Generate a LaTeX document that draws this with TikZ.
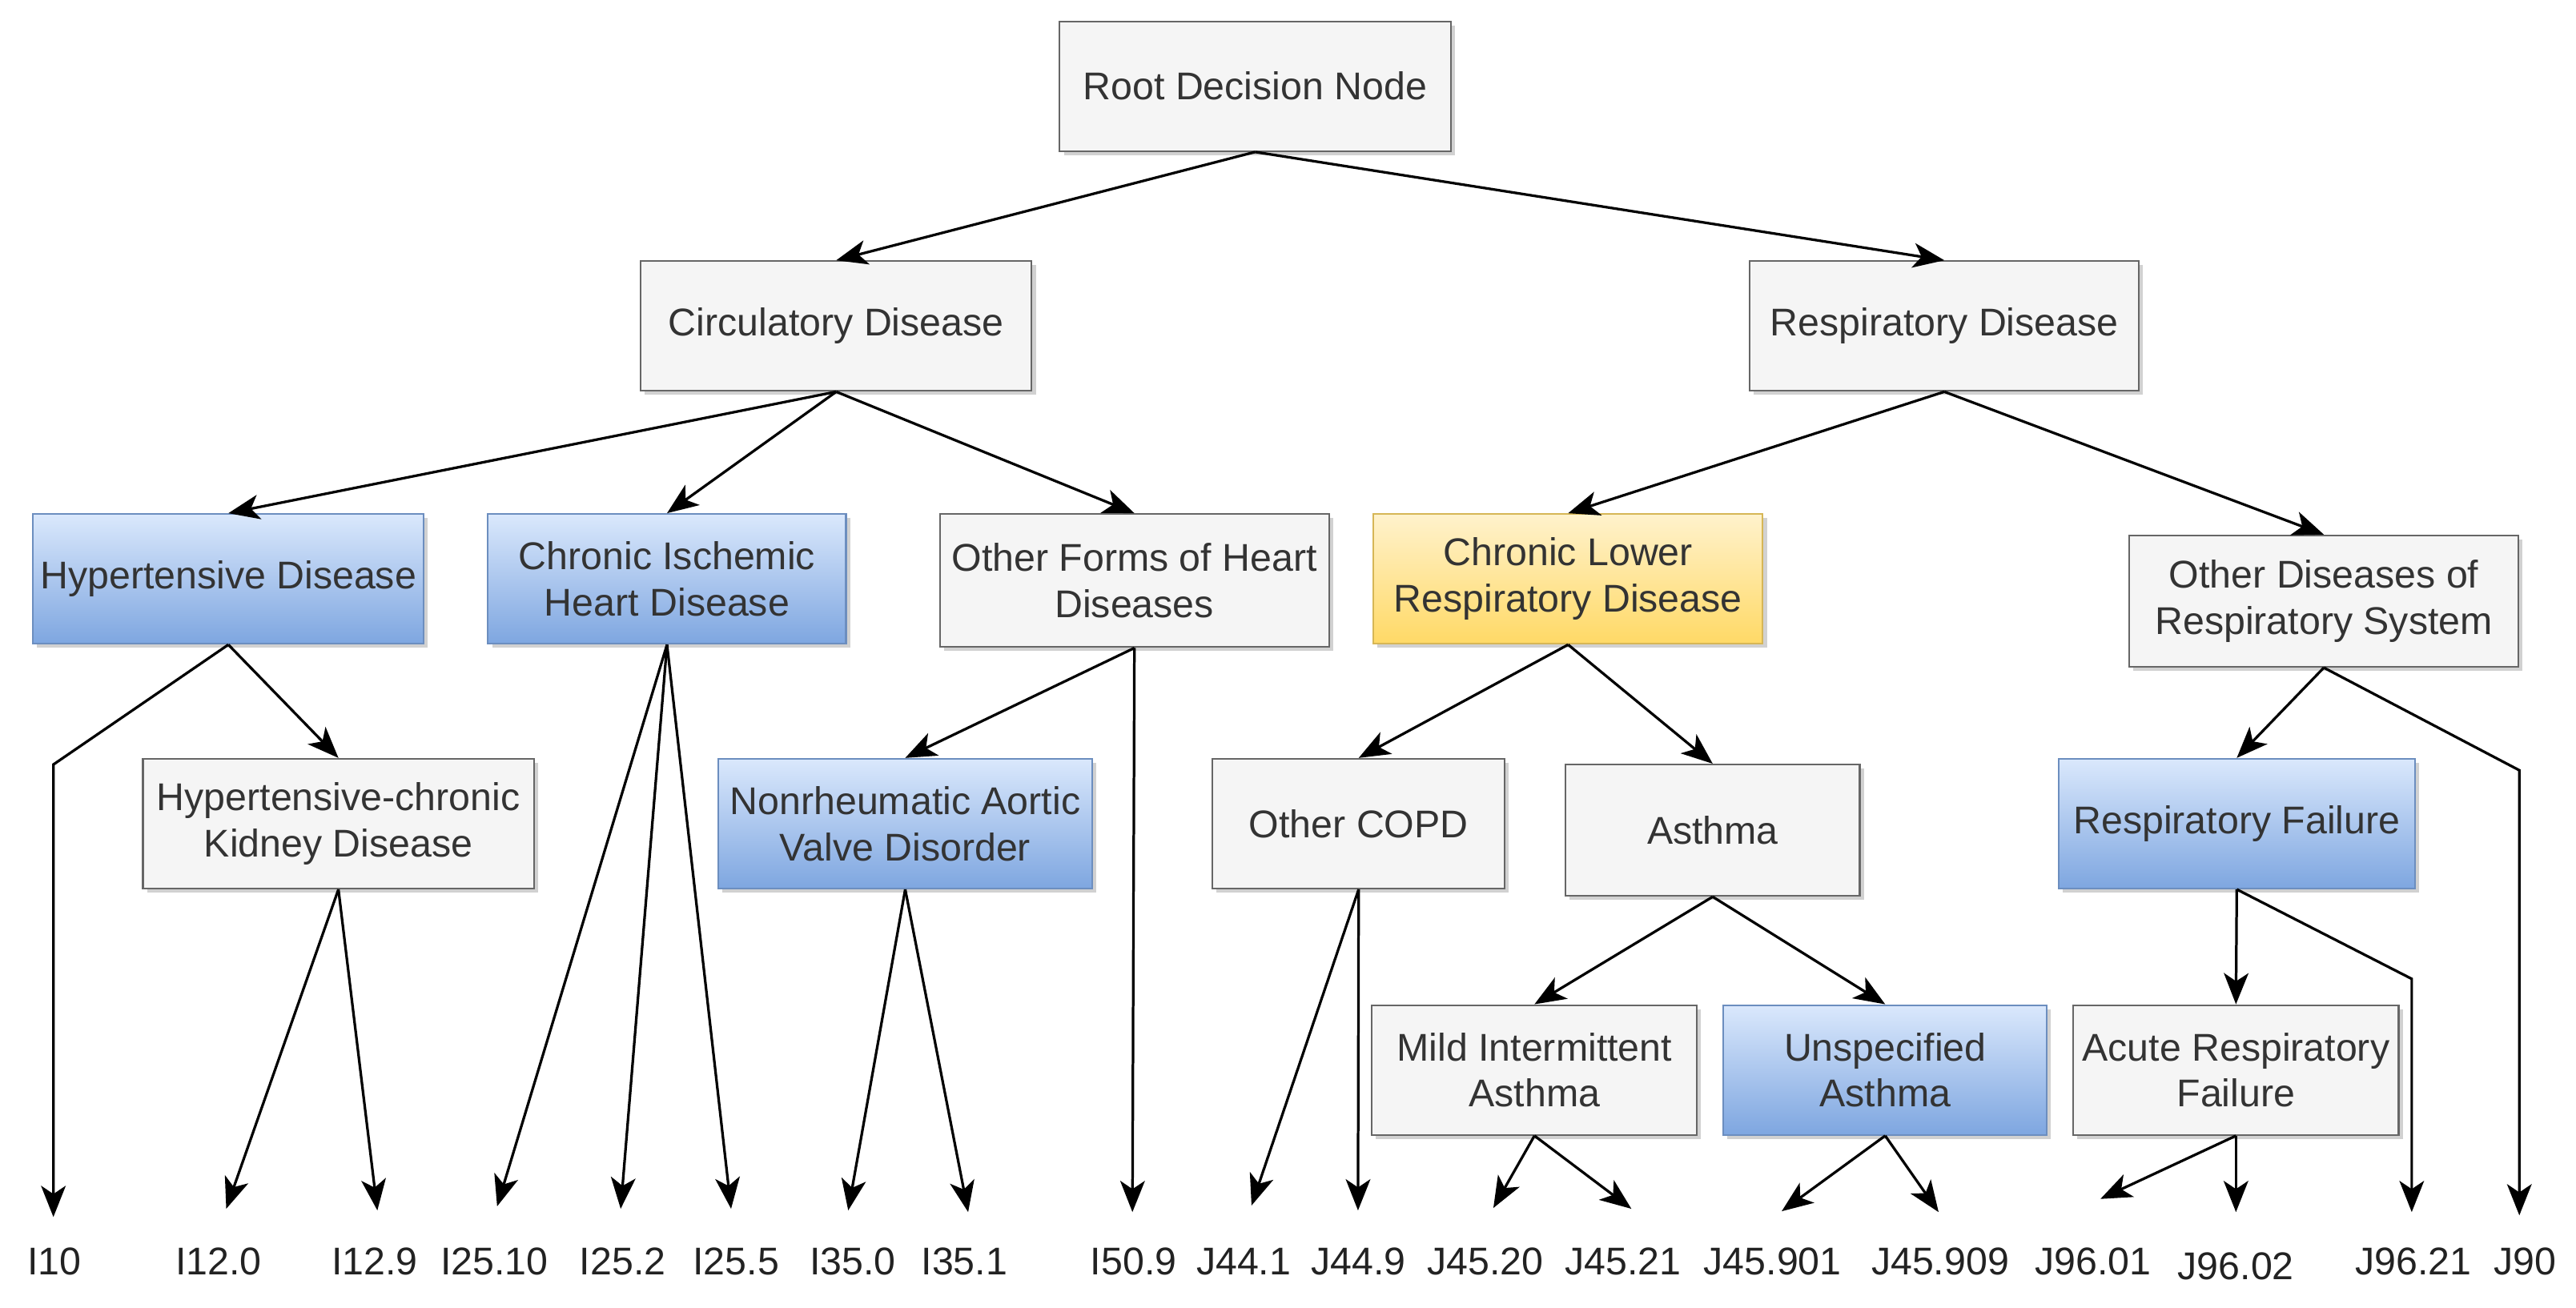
\documentclass[tikz,border=0pt]{standalone}
\usepackage{fontspec}
\setmainfont{Liberation Sans}
\usetikzlibrary{arrows.meta,shadows}
\definecolor{txt}{HTML}{333333}
\definecolor{leaftxt}{HTML}{222222}
\definecolor{gfill}{HTML}{F5F5F5}
\definecolor{gdraw}{HTML}{666666}
\definecolor{btop}{HTML}{DAE8FC}
\definecolor{bbot}{HTML}{7EA6E0}
\definecolor{bdraw}{HTML}{6C8EBF}
\definecolor{ytop}{HTML}{FFF2CC}
\definecolor{ybot}{HTML}{FFD966}
\definecolor{ydraw}{HTML}{D6B656}
\begin{document}
\begin{tikzpicture}[x=0.02cm,y=-0.02cm,
  box/.style={rectangle, inner sep=0pt, align=center, text=txt, line width=0.6pt,
    font=\fontsize{13.4pt}{16pt}\selectfont, minimum height=1.58cm,
    drop shadow={shadow xshift=0.05cm, shadow yshift=-0.05cm, opacity=0.18, fill=black}},
  gbox/.style={box, fill=gfill, draw=gdraw},
  bbox/.style={box, top color=btop, bottom color=bbot, draw=bdraw},
  ybox/.style={box, top color=ytop, bottom color=ybot, draw=ydraw},
  leaf/.style={inner sep=0pt, anchor=base, text=leaftxt, font=\fontsize{13.4pt}{16pt}\selectfont},
  arr/.style={-{Stealth[length=0.38cm,width=0.3cm,inset=0.1cm]}, line width=0.9pt, black, line join=miter}
]
\useasboundingbox (0,0) rectangle (1568,796);

% boxes
\node[gbox, minimum width=4.76cm] (root) at (764,52.5) {Root Decision Node};
\node[gbox, minimum width=4.76cm] (circ) at (509,198.5) {Circulatory Disease};
\node[gbox, minimum width=4.74cm] (resp) at (1183.5,198.5) {Respiratory Disease};
\node[bbox, minimum width=4.76cm] (hyp) at (139,352.5) {Hypertensive Disease};
\node[bbox, minimum width=4.36cm] (cihd) at (406,352.5) {Chronic Ischemic\\Heart Disease};
\node[gbox, minimum width=4.74cm, minimum height=1.62cm] (ofhd) at (690.5,353.5) {Other Forms of Heart\\Diseases};
\node[ybox, minimum width=4.74cm] (clrd) at (954.5,352.5) {Chronic Lower\\Respiratory Disease};
\node[gbox, minimum width=4.74cm, minimum height=1.6cm] (odrs) at (1414.5,366) {Other Diseases of\\Respiratory System};
\node[gbox, minimum width=4.76cm] (hckd) at (206,501.5) {Hypertensive-chronic\\Kidney Disease};
\node[bbox, minimum width=4.56cm] (navd) at (551,501.5) {Nonrheumatic Aortic\\Valve Disorder};
\node[gbox, minimum width=3.56cm] (copd) at (827,501.5) {Other COPD};
\node[gbox, minimum width=3.58cm, minimum height=1.6cm] (asthma) at (1042.5,505.5) {Asthma};
\node[bbox, minimum width=4.34cm] (rf) at (1361.5,501.5) {Respiratory Failure};
\node[gbox, minimum width=3.96cm] (mia) at (934,651.5) {Mild Intermittent\\Asthma};
\node[bbox, minimum width=3.94cm] (ua) at (1147.5,651.5) {Unspecified\\Asthma};
\node[gbox, minimum width=3.96cm] (arf) at (1361,651.5) {Acute Respiratory\\Failure};

% leaf labels
\node[leaf] (lI10) at (33,776) {I10};
\node[leaf] (lI120) at (133,776) {I12.0};
\node[leaf] (lI129) at (228,776) {I12.9};
\node[leaf] (lI2510) at (301,776) {I25.10};
\node[leaf] (lI252) at (379,776) {I25.2};
\node[leaf] (lI255) at (448,776) {I25.5};
\node[leaf] (lI350) at (519,776) {I35.0};
\node[leaf] (lI351) at (587,776) {I35.1};
\node[leaf] (lI509) at (690,776) {I50.9};
\node[leaf] (lJ441) at (757,776) {J44.1};
\node[leaf] (lJ449) at (827,776) {J44.9};
\node[leaf] (lJ4520) at (904,776) {J45.20};
\node[leaf] (lJ4521) at (988,776) {J45.21};
\node[leaf] (lJ45901) at (1079,776) {J45.901};
\node[leaf] (lJ45909) at (1181,776) {J45.909};
\node[leaf] (lJ9601) at (1274,776) {J96.01};
\node[leaf] (lJ9602) at (1361,779) {J96.02};
\node[leaf] (lJ9621) at (1469,776) {J96.21};
\node[leaf] (lJ90) at (1537,776) {J90};

% arrow end points above the leaf labels
\coordinate (tI10) at (32.5,741);
\coordinate (tI120) at (137.7,736);
\coordinate (tI129) at (229.7,737);
\coordinate (tI2510) at (302.6,734.5);
\coordinate (tI252) at (377.8,736);
\coordinate (tI255) at (445,736);
\coordinate (tI350) at (516.3,737);
\coordinate (tI351) at (589.3,738);
\coordinate (tI509) at (689.3,738);
\coordinate (tJ441) at (761.8,734);
\coordinate (tJ449) at (826.6,737);
\coordinate (tJ4520) at (909,735.5);
\coordinate (tJ4521) at (993,736);
\coordinate (tJ45901) at (1084.5,737.5);
\coordinate (tJ45909) at (1180,738);
\coordinate (tJ9601) at (1278.5,730);
\coordinate (tJ9602) at (1361,738);
\coordinate (tJ9621) at (1468,738);
\coordinate (tJ90) at (1533.5,740);
\coordinate (bI10) at (32.5,465.5);
\coordinate (bJ90) at (1533.5,469);
\coordinate (bJ9621) at (1468,596);

% connectors
\draw[arr] (root.south) -- (circ.north);
\draw[arr] (root.south) -- (resp.north);
\draw[arr] (circ.south) -- (hyp.north);
\draw[arr] (circ.south) -- (cihd.north);
\draw[arr] (circ.south) -- (ofhd.north);
\draw[arr] (resp.south) -- (clrd.north);
\draw[arr] (resp.south) -- (odrs.north);
\draw[arr] (hyp.south) -- (bI10) -- (tI10);
\draw[arr] (hyp.south) -- (hckd.north);
\draw[arr] (hckd.south) -- (tI120);
\draw[arr] (hckd.south) -- (tI129);
\draw[arr] (cihd.south) -- (tI2510);
\draw[arr] (cihd.south) -- (tI252);
\draw[arr] (cihd.south) -- (tI255);
\draw[arr] (ofhd.south) -- (navd.north);
\draw[arr] (ofhd.south) -- (tI509);
\draw[arr] (navd.south) -- (tI350);
\draw[arr] (navd.south) -- (tI351);
\draw[arr] (clrd.south) -- (copd.north);
\draw[arr] (clrd.south) -- (asthma.north);
\draw[arr] (copd.south) -- (tJ441);
\draw[arr] (copd.south) -- (tJ449);
\draw[arr] (asthma.south) -- (mia.north);
\draw[arr] (asthma.south) -- (ua.north);
\draw[arr] (mia.south) -- (tJ4520);
\draw[arr] (mia.south) -- (tJ4521);
\draw[arr] (ua.south) -- (tJ45901);
\draw[arr] (ua.south) -- (tJ45909);
\draw[arr] (odrs.south) -- (rf.north);
\draw[arr] (odrs.south) -- (bJ90) -- (tJ90);
\draw[arr] (rf.south) -- (arf.north);
\draw[arr] (rf.south) -- (bJ9621) -- (tJ9621);
\draw[arr] (arf.south) -- (tJ9601);
\draw[arr] (arf.south) -- (tJ9602);
\end{tikzpicture}
\end{document}
